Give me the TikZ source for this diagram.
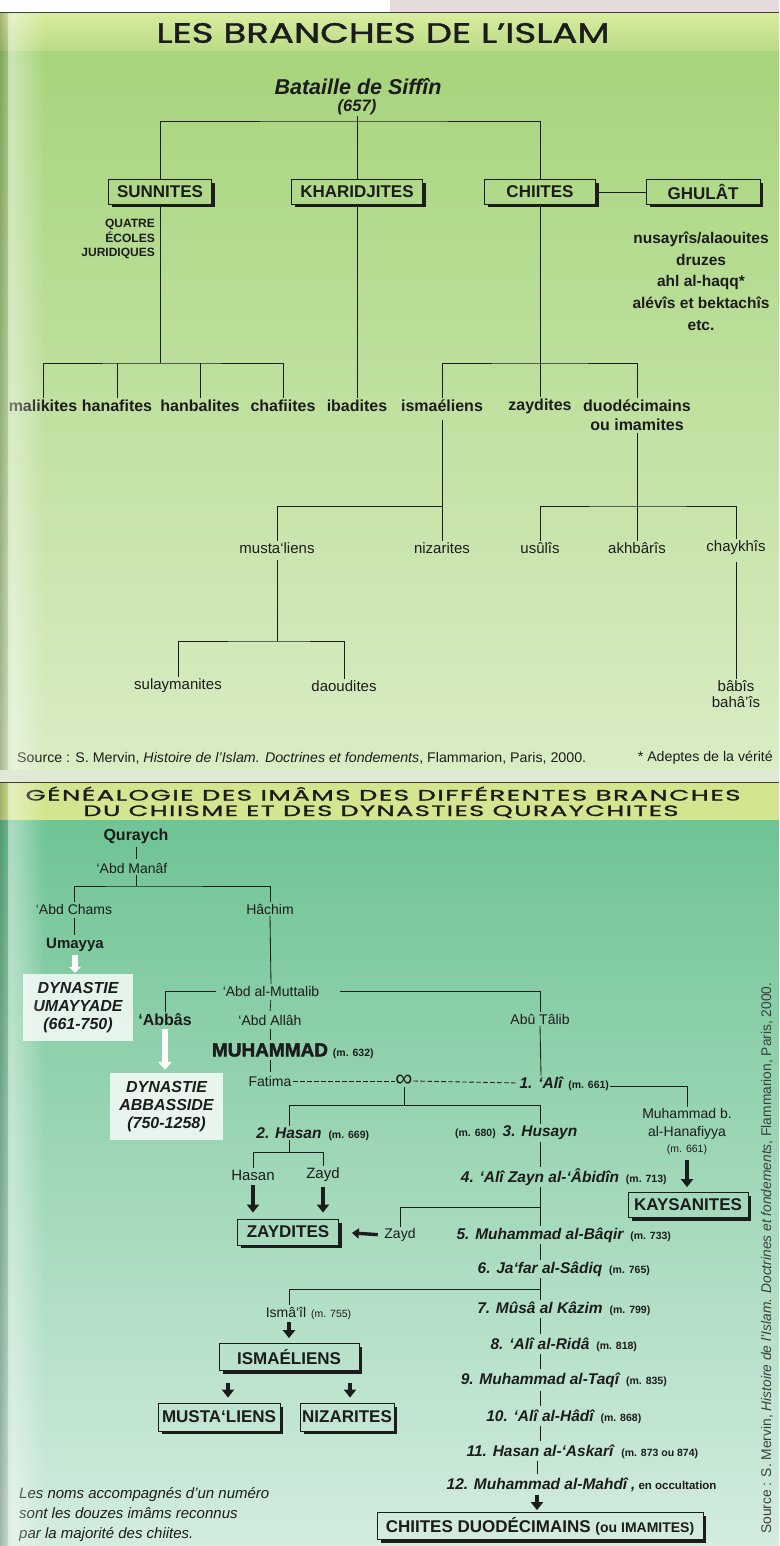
\documentclass[tikz,border=0pt]{standalone}
\usepackage{fontspec}
\setmainfont{Liberation Sans}
\newfontfamily\titlefont{Poppins}[FakeBold=1.2]
\newfontfamily\heavyfont{Liberation Sans}[FakeBold=2.2]
\usetikzlibrary{arrows.meta,fadings,calc}
\newcommand{\myfs}[2]{\fontsize{#1}{#2}\selectfont}
\definecolor{ink}{HTML}{1C1C1C}
\definecolor{pinkgrey}{HTML}{E4DADB}
\definecolor{bandtop}{HTML}{D9EC9E}
\definecolor{bandbot}{HTML}{B9DB86}
\definecolor{topA}{HTML}{A7D47C}
\definecolor{topB}{HTML}{D9EDC4}
\definecolor{sepcol}{HTML}{E0E9D4}
\definecolor{bandtwo}{HTML}{D3E68F}
\definecolor{botA}{HTML}{6FC494}
\definecolor{botM}{HTML}{9CD5B2}
\definecolor{botB}{HTML}{D3ECDE}
\tikzset{
 lnk/.style={draw=ink, line width=0.85pt},
 tick/.style={draw=ink, line width=0.7pt, shorten <=2pt, shorten >=2pt},
 sbox/.style={draw=ink, line width=0.8pt, inner sep=0pt, text=ink, font=\bfseries\myfs{17}{20}},
 blab/.style={inner sep=1.5pt, text=ink, font=\bfseries\myfs{16}{19}},
 rlab/.style={inner sep=1.5pt, text=ink, font=\myfs{15}{18}},
 glab/.style={inner sep=1.5pt, text=ink, font=\myfs{14}{17}},
 imam/.style={inner sep=1.5pt, text=ink, font=\bfseries\itshape\myfs{15.5}{18}},
 mdate/.style={inner sep=1pt, text=ink, font=\bfseries\myfs{10.5}{12}},
 barrow/.style={draw=ink, line width=3.8pt, -{Triangle[width=12pt,length=8pt]}},
 warrow/.style={draw=white, line width=6pt, -{Triangle[width=13pt,length=8pt]}},
 dynbox/.style={fill=white, fill opacity=0.78, text opacity=1, text=ink, inner sep=0pt, font=\bfseries\itshape\myfs{16}{18}, align=center},
 shadowline/.style={draw=ink, line width=2.6pt},
}
\begin{document}
\begin{tikzpicture}[x=1pt,y=-1pt]
\useasboundingbox (0,0) rectangle (779,1546);
% ---------- backgrounds
\fill[white] (0,0) rectangle (779,13);
\fill[pinkgrey] (390,0) rectangle (779,12);
\shade[top color=bandtop, bottom color=bandbot] (0,13) rectangle (779,52);
\shade[top color=topA, bottom color=topB] (0,52) rectangle (779,770);
\fill[sepcol] (0,770) rectangle (779,783);
\fill[bandtwo] (0,783) rectangle (779,820);
\shade[top color=botA, middle color=botM, bottom color=botB] (0,820) rectangle (779,1546);
\draw[line width=1.3pt, ink!85] (0,12.5) -- (779,12.5);
\draw[line width=1.3pt, ink!85] (0,782.5) -- (779,782.5);

% ---------- titles
\node[inner sep=0pt, text=ink] (title1) at (383,33) {\resizebox{453pt}{\height}{\titlefont\myfs{28}{28}LES BRANCHES DE L’ISLAM}};
\node[inner sep=0pt, text=ink, anchor=base] (title2a) at (383,800.5) {\resizebox{715pt}{\height}{\titlefont\addfontfeatures{LetterSpace=6}\myfs{15}{15}GÉNÉALOGIE DES IMÂMS DES DIFFÉRENTES BRANCHES}};
\node[inner sep=0pt, text=ink, anchor=base] (title2b) at (381,816) {\resizebox{595pt}{\height}{\titlefont\addfontfeatures{LetterSpace=6}\myfs{15}{15}DU CHIISME ET DES DYNASTIES QURAYCHITES}};

% ---------- upper tree
\node[inner sep=1pt, text=ink, font=\bfseries\itshape\myfs{21.5}{24}] (siffin) at (358,87) {Bataille de Siffîn};
\node[inner sep=1.5pt, text=ink, font=\bfseries\itshape\myfs{16.5}{18}] (d657) at (357,107) {(657)};
\node[sbox, minimum width=103pt, minimum height=25pt] (sun) at (160,192) {SUNNITES};
\node[sbox, minimum width=131pt, minimum height=25pt] (khar) at (357,192) {KHARIDJITES};
\node[sbox, minimum width=111pt, minimum height=25pt] (chi) at (540,192) {CHIITES};
\node[sbox, minimum width=114pt, minimum height=25pt] (ghu) at (703,192) {GHULÂT};
\coordinate (j0) at (357,121);
\draw[lnk] (d657.south) -- (khar.north);
\draw[lnk] (sun.north) |- (j0) -| (chi.north);
\draw[lnk] (chi.east) -- (ghu.west);

\node[inner sep=0pt, text=ink, align=right, anchor=east, font=\bfseries\myfs{12}{14.5}] (quatre) at (155,239) {QUATRE\\ÉCOLES\\JURIDIQUES};
\node[inner sep=0pt, text=ink, align=center, font=\bfseries\myfs{15.5}{21.7}] (ghulist) at (701,281) {nusayrîs/alaouites\\druzes\\ahl al-haqq*\\alévîs et bektachîs\\etc.};

\node[blab] (mal) at (43,406) {malikites};
\node[blab] (han) at (117,406) {hanafites};
\node[blab] (hanb) at (200,406) {hanbalites};
\node[blab] (chaf) at (283,406) {chafiites};
\node[blab] (ibad) at (357,406) {ibadites};
\node[blab] (isma) at (442,406) {ismaéliens};
\node[blab] (zayl) at (540,406) {zaydites};
\node[blab, align=center, font=\bfseries\myfs{16}{19}] (duo) at (637,415.5) {duodécimains\\ou imamites};
\coordinate (j1) at (160,363);
\coordinate (j2) at (540,363);
\draw[lnk] (sun.south) -- (j1);
\draw[lnk] (mal.north) |- (j1) -| (chaf.north);
\draw[lnk] (han.north) -- (han.north |- j1);
\draw[lnk] (hanb.north) -- (hanb.north |- j1);
\draw[lnk] (khar.south) -- (ibad.north);
\draw[lnk] (chi.south) -- (zayl.north);
\draw[lnk] (isma.north) |- (j2) -| (duo.north);

\node[rlab] (must) at (277,548) {musta‘liens};
\node[rlab] (niz) at (442,548) {nizarites};
\node[rlab] (usu) at (540,548) {usûlîs};
\node[rlab] (akh) at (637,548) {akhbârîs};
\node[rlab] (chay) at (736,548) {chaykhîs};
\coordinate (j3) at (442,506);
\coordinate (j4) at (637,506);
\draw[lnk, shorten <=6pt] (isma.south) -- (niz.north);
\draw[lnk] (j3) -| (must.north);
\draw[lnk] (duo.south) -- (akh.north);
\draw[lnk] (usu.north) |- (j4) -| (chay.north);

\node[rlab] (sula) at (178,686) {sulaymanites};
\node[rlab] (daou) at (344,686) {daoudites};
\node[rlab, align=center, font=\myfs{15}{16.5}] (babi) at (736,694) {bâbîs\\bahâ’îs};
\coordinate (j5) at (277,641);
\draw[lnk, shorten <=5pt] (must.south) -- (j5);
\draw[lnk] (sula.north) |- (j5) -| (daou.north);
\draw[lnk, shorten <=5pt] (chay.south) -- (babi.north);

\node[inner sep=0pt, anchor=west, text=ink, font=\myfs{14}{16}] (src1) at (17,758) {\resizebox{569pt}{\height}{Source : S. Mervin, \textit{Histoire de l’Islam. Doctrines et fondements}, Flammarion, Paris, 2000.}};
\node[inner sep=0pt, anchor=east, text=ink, font=\myfs{14}{16}] (adeptes) at (773,758) {\resizebox{135pt}{\height}{* Adeptes de la vérité}};

% ---------- genealogy
\node[blab] (quraych) at (136,836) {Quraych};
\node[glab] (abdmanaf) at (132,868) {‘Abd Manâf};
\coordinate (j6) at (136,886);
\draw[tick] (quraych.south) -- (quraych.south |- abdmanaf.north);
\draw[lnk] (abdmanaf.south -| j6) -- (j6);
\node[glab] (abdchams) at (74,909) {‘Abd Chams};
\node[glab] (hachim) at (270,909) {Hâchim};
\draw[lnk] (abdchams.north) |- (j6) -| (hachim.north);
\node[inner sep=1.5pt, text=ink, font=\bfseries\myfs{15}{18}] (umayya) at (75,945) {Umayya};
\draw[tick] (abdchams.south) -- (abdchams.south |- umayya.north);
\node[dynbox, minimum width=110pt, minimum height=67pt] (umbox) at (78,1007.5) {DYNASTIE\\UMAYYADE\\(661-750)};
\draw[warrow, line width=6pt, -{Triangle[width=12pt,length=6pt]}, shorten <=2pt, shorten >=1pt] (umayya.south) -- (umayya.south |- umbox.north);

\node[glab] (muttalib) at (271,991) {‘Abd al-Muttalib};
\draw[lnk] (hachim.south) -- (muttalib.north);
\node[inner sep=1.5pt, text=ink, font=\bfseries\myfs{16}{19}] (abbas) at (165,1020) {‘Abbâs};
\node[glab] (abdallah) at (270,1020) {‘Abd Allâh};
\node[glab] (abutalib) at (540,1019) {Abû Tâlib};
\draw[lnk] ([xshift=-5pt]muttalib.west) -| (abbas.north);
\draw[lnk] ([xshift=19pt]muttalib.east) -| (abutalib.north);
\draw[tick] (muttalib.south) -- (abdallah.north);
\node[dynbox, minimum width=113pt, minimum height=67pt] (abbox) at (166.5,1106.5) {DYNASTIE\\ABBASSIDE\\(750-1258)};
\draw[warrow, shorten <=1pt, shorten >=3pt] (abbas.south) -- (abbas.south |- abbox.north);

\node[inner sep=1.5pt, text=ink, font=\heavyfont\bfseries\myfs{19}{22}] (muh) at (270,1050) {MUHAMMAD};
\node[mdate, anchor=base west] (muhd) at ([xshift=2pt]muh.base east) {(m. 632)};
\draw[tick] (abdallah.south) -- (muh.north);
\node[glab] (fatima) at (270,1081) {Fatima};
\draw[tick] (muh.south) -- (fatima.north);
\node[inner sep=0.5pt, text=ink, font=\myfs{24}{24}] (inf) at (404,1081) {∞};
\node[imam] (imam1) at (541,1083) {1. ‘Alî};
\node[mdate, anchor=base west] (d1) at ([xshift=3pt]imam1.base east) {(m. 661)};
\draw[lnk, dash pattern=on 4.5pt off 2.5pt] (fatima.east) -- (inf.west);
\draw[lnk, dash pattern=on 4.5pt off 2.5pt] (inf.east) -- (imam1.west);
\draw[lnk] (abutalib.south) -- (imam1.north);

\node[glab, align=center] (mhan) at (687,1132) {Muhammad b.\\al-Hanafiyya\\{\myfs{10.5}{12}(m. 661)}};
\draw[lnk] (d1.east) -| (mhan.north);
\node[sbox, minimum width=120pt, minimum height=25pt] (kays) at (688,1205) {KAYSANITES};
\draw[barrow, shorten <=3pt, shorten >=5pt] (mhan.south) -- (mhan.south |- kays.north);

\coordinate (j7) at (404,1105);
\node[imam] (imam2) at (289,1133) {2. Hasan};
\node[mdate, anchor=base west] (d2) at ([xshift=4pt]imam2.base east) {(m. 669)};
\node[imam] (imam3) at (540,1133) {3. Husayn};
\node[mdate, anchor=base east] (d3) at ([xshift=-4pt]imam3.base west) {(m. 680)};
\draw[lnk] (inf.south) -- (j7);
\draw[lnk] (imam2.north) |- (j7) -| (imam3.north);

\coordinate (j8) at (289,1152);
\node[rlab] (hasanc) at (253,1175) {Hasan};
\node[rlab] (zaydc) at (323,1175) {Zayd};
\draw[lnk] (imam2.south) -- (j8);
\draw[lnk] (hasanc.north) |- (j8) -| (zaydc.north);
\node[sbox, minimum width=101pt, minimum height=26pt] (zaydites) at (288,1232) {ZAYDITES};
\draw[barrow, shorten <=3pt, shorten >=6pt] (hasanc.south) -- (hasanc.south |- zaydites.north);
\draw[barrow, shorten <=3pt, shorten >=6pt] (zaydc.south) -- (zaydc.south |- zaydites.north);

\node[imam] (imam4) at (540,1177) {4. ‘Alî Zayn al-‘Âbidîn};
\node[mdate, anchor=base west] (d4) at ([xshift=4pt]imam4.base east) {(m. 713)};
\node[imam] (imam5) at (540,1235) {5. Muhammad al-Bâqir};
\node[mdate, anchor=base west] (d5) at ([xshift=4pt]imam5.base east) {(m. 733)};
\node[imam] (imam6) at (540,1269) {6. Ja‘far al-Sâdiq};
\node[mdate, anchor=base west] (d6) at ([xshift=4pt]imam6.base east) {(m. 765)};
\node[imam] (imam7) at (540,1308) {7. Mûsâ al Kâzim};
\node[mdate, anchor=base west] (d7) at ([xshift=4pt]imam7.base east) {(m. 799)};
\node[imam] (imam8) at (540,1344) {8. ‘Alî al-Ridâ};
\node[mdate, anchor=base west] (d8) at ([xshift=4pt]imam8.base east) {(m. 818)};
\node[imam] (imam9) at (540,1380) {9. Muhammad al-Taqî};
\node[mdate, anchor=base west] (d9) at ([xshift=4pt]imam9.base east) {(m. 835)};
\node[imam] (imam10) at (540,1416) {10. ‘Alî al-Hâdî};
\node[mdate, anchor=base west] (d10) at ([xshift=4pt]imam10.base east) {(m. 868)};
\node[imam] (imam11) at (540,1451) {11. Hasan al-‘Askarî};
\node[mdate, anchor=base west] (d11) at ([xshift=5pt]imam11.base east) {(m. 873 ou 874)};
\node[imam] (imam12) at (537,1484) {12. Muhammad al-Mahdî};
\node[mdate, anchor=base west, font=\bfseries\myfs{11.5}{13}] (d12) at ([xshift=1pt]imam12.base east) {{\itshape\myfs{15}{18},} en occultation};

\draw[lnk] (imam3.south) -- (imam4.north);
\draw[lnk] (imam4.south) -- (imam5.north);
\draw[lnk] (imam5.south) -- (imam6.north);
\draw[lnk] (imam6.south) -- (imam7.north);
\draw[tick] (imam7.south) -- (imam8.north);
\draw[tick] (imam8.south) -- (imam9.north);
\draw[tick] (imam9.south) -- (imam10.north);
\draw[tick] (imam10.south) -- (imam11.north);
\draw[tick] (imam11.south -| imam12.north) -- (imam12.north);

\node[glab] (zaydb) at (400,1235) {Zayd};
\coordinate (j9) at (540,1207);
\draw[lnk] (zaydb.north) |- (j9);
\draw[barrow, line width=3.4pt, -{Triangle[width=10pt,length=7pt]}, shorten <=5pt, shorten >=13pt] (zaydb.west) -- (zaydites.east);

\node[glab] (ismail) at (286,1312) {Ismâ‘îl};
\node[inner sep=1pt, text=ink, anchor=base west, font=\myfs{10.5}{12}] (dis) at ([xshift=2pt]ismail.base east) {(m. 755)};
\coordinate (j10) at (540,1289);
\draw[lnk] (j10) -| ([xshift=3pt]ismail.north);
\node[sbox, minimum width=140pt, minimum height=27pt] (isbox) at (289,1357) {ISMAÉLIENS};
\draw[barrow, shorten <=3pt, shorten >=5pt] ([xshift=3pt]ismail.south) -- ([xshift=3pt]ismail.south |- isbox.north);
\node[sbox, minimum width=122pt, minimum height=28pt] (mustbox) at (219,1417) {MUSTA‘LIENS};
\node[sbox, minimum width=94pt, minimum height=28pt] (nizbox) at (347,1417) {NIZARITES};
\draw[barrow, shorten <=12pt, shorten >=5pt] ([xshift=-61pt]isbox.south) -- ([xshift=-61pt]isbox.south |- mustbox.north);
\draw[barrow, shorten <=12pt, shorten >=5pt] ([xshift=61pt]isbox.south) -- ([xshift=61pt]isbox.south |- nizbox.north);

\node[sbox, minimum width=326pt, minimum height=27pt] (duobox) at (540,1526) {CHIITES DUODÉCIMAINS {\myfs{14}{16}(ou IMAMITES)}};
\draw[barrow, shorten <=3pt, shorten >=2pt] (imam12.south) -- (imam12.south |- duobox.north);

\node[inner sep=0pt, anchor=west, align=left, text=ink, font=\itshape\myfs{15}{20}] (foot) at (19,1515) {Les noms accompagnés d’un numéro\\sont les douzes imâms reconnus\\par la majorité des chiites.};

\node[inner sep=0pt, rotate=90, text=ink!85, font=\myfs{14}{16}] (src2) at (767,1258) {\resizebox{551pt}{\height}{Source : S. Mervin, \textit{Histoire de l’Islam. Doctrines et fondements}, Flammarion, Paris, 2000.}};

% ---------- box shadows
\foreach \b in {sun,khar,chi,ghu,kays,zaydites,isbox,mustbox,nizbox,duobox}
  \draw[shadowline] ([xshift=1.3pt,yshift=-4pt]\b.north east) -- ([xshift=1.3pt,yshift=-1.3pt]\b.south east) -- ([xshift=4pt,yshift=-1.3pt]\b.south west);

% ---------- gutter
\fill[black, opacity=0.22, path fading=east] (0,13) rectangle (12,770);
\fill[black, opacity=0.22, path fading=east] (0,783) rectangle (12,1546);
\fill[white, opacity=0.45, path fading=east] (8,13) rectangle (45,770);
\fill[white, opacity=0.45, path fading=east] (8,783) rectangle (45,1546);
\end{tikzpicture}
\end{document}
